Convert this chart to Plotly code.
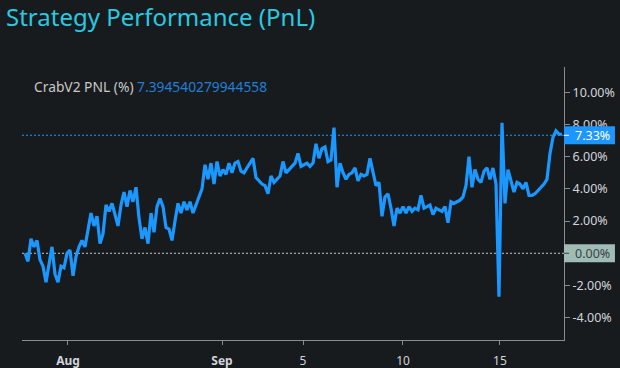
import plotly.graph_objects as go

# ---- data (bar index based, as in the TradingView-style chart) ----
pnl_values = [
    0.0, -0.5, 0.9, 0.4, 0.8, -0.4, -0.8, -1.8, -0.7, 0.4,
    -1.3, -1.8, -0.8, -0.9, 0.0, 0.2, -1.4, -0.2, 0.4, 0.8,
    0.4, 1.5, 2.5, 1.7, 2.3, 0.6, 1.2, 3.0, 2.6, 3.1,
    2.4, 1.7, 3.0, 3.8, 2.9, 3.9, 3.2, 4.1, 2.2, 0.9,
    1.6, 0.6, 2.5, 1.3, 2.9, 3.4, 2.9, 1.6, 1.5, 0.8,
    2.0, 3.1, 2.5, 3.2, 2.7, 3.2, 2.5, 3.0, 3.6, 4.0,
    5.5, 4.6, 5.6, 4.3, 5.7, 4.8, 5.2, 4.9, 5.6, 5.0,
    5.6, 5.7, 5.1, 5.0, 5.3, 5.6, 5.9, 4.7, 4.5, 4.3,
    4.2, 3.7, 4.8, 4.4, 4.6, 4.8, 5.7, 5.0, 5.2, 5.4,
    5.6, 6.2, 5.4, 5.5, 5.6, 5.4, 5.6, 6.8, 5.9, 6.5,
    6.6, 5.7, 5.8, 7.8, 4.1, 5.6, 5.0, 4.6, 4.9, 5.0,
    5.3, 4.5, 4.9, 4.8, 4.9, 5.9, 5.0, 4.2, 4.4, 2.3,
    3.5, 3.7, 2.8, 1.7, 2.8, 2.5, 2.9, 2.5, 2.9, 2.6,
    2.8, 2.7, 3.6, 2.8, 2.9, 3.0, 2.4, 2.8, 2.7, 2.6,
    2.9, 1.9, 3.2, 3.1, 3.2, 3.3, 3.5, 4.2, 6.0, 4.1,
    5.2, 4.6, 4.4, 5.1, 5.3, 4.6, 5.3, 4.3, -2.7, 8.1,
    3.1, 5.2, 4.5, 3.8, 4.4, 4.3, 4.0, 4.4, 3.6, 3.6,
    3.7, 3.9, 4.1, 4.3, 4.6, 6.2, 7.2, 7.6, 7.4, 7.394540279944558,
]
bar_index = list(range(len(pnl_values)))

date_tick_index = [14.33, 65.67, 92.67, 126.0, 158.33]
date_tick_labels = ["<b>Aug</b>", "<b>Sep</b>", "5", "10", "15"]

pnl_ticks = [-4, -2, 0, 2, 4, 6, 8, 10]
pnl_tick_labels = ["" if v == 0 else f"{v:.2f}%" for v in pnl_ticks]

series_name = "CrabV2 PNL (%)"
last_value = pnl_values[-1]
last_label = "7.33%"
last_line_value = 7.33
zero_label = "0.00%"

BG = "#181b1e"
LINE = "#1a98ff"
AXIS = "#8a8d90"
TXT = "#d1d4dc"
FONT = "Noto Sans"

fig = go.Figure()
fig.add_trace(go.Scatter(
    x=bar_index, y=pnl_values, mode="lines",
    line=dict(color=LINE, width=3.2), hoverinfo="skip", showlegend=False,
))

# reference lines
fig.add_shape(type="line", xref="paper", x0=0, x1=1, yref="y", y0=0, y1=0,
              line=dict(color="#c8c8c8", width=1, dash="2px,2px"), layer="below")
fig.add_shape(type="line", xref="paper", x0=0, x1=1, yref="y", y0=last_line_value, y1=last_line_value,
              line=dict(color="#2196f3", width=1, dash="2px,2px"), layer="below")

# price-scale label boxes
fig.add_shape(type="rect", xref="paper", x0=1.0, x1=1.094, yref="y",
              y0=last_line_value - 0.56, y1=last_line_value + 0.56,
              fillcolor="#1e96ff", line=dict(width=0), layer="above")
fig.add_shape(type="rect", xref="paper", x0=1.0, x1=1.094, yref="y",
              y0=-0.56, y1=0.56, fillcolor="#9fbdb6", line=dict(width=0), layer="above")
fig.add_shape(type="line", xref="paper", x0=1.0, x1=1.0092, yref="y",
              y0=last_line_value, y1=last_line_value,
              line=dict(color="#ffffff", width=1), layer="above")
fig.add_shape(type="line", xref="paper", x0=1.0, x1=1.0092, yref="y",
              y0=0, y1=0, line=dict(color="#3c4144", width=1), layer="above")
fig.add_annotation(xref="paper", x=1.0165, yref="y", y=last_line_value, xanchor="left",
                   yanchor="middle", text=last_label, showarrow=False,
                   font=dict(family=FONT, size=12.5, color="#ffffff"))
fig.add_annotation(xref="paper", x=1.0165, yref="y", y=0, xanchor="left",
                   yanchor="middle", text=zero_label, showarrow=False,
                   font=dict(family=FONT, size=12.5, color="#3c4144"))

# legend text
fig.add_annotation(xref="paper", x=0.0185, yref="paper", y=0.930, xanchor="left",
                   yanchor="middle", showarrow=False,
                   text=f"{series_name} <span style='color:#1f80d8'>{last_value}</span>",
                   font=dict(family=FONT, size=13.8, color="#c8c8c8"))

fig.update_layout(
    width=620, height=368,
    paper_bgcolor=BG, plot_bgcolor=BG,
    margin=dict(l=22, r=56, t=67, b=28, autoexpand=False),
    title=dict(text="Strategy Performance (PnL)", x=6 / 620, xanchor="left",
               y=1 - 18 / 368, yanchor="middle",
               font=dict(family=FONT, size=24, color="#29c9e0")),
    xaxis=dict(range=[-1, 179.67], tickmode="array", tickvals=date_tick_index,
               ticktext=date_tick_labels, showgrid=False, zeroline=False,
               showline=True, linecolor=AXIS, linewidth=1, automargin=False,
               ticks="outside", ticklen=4, tickcolor=AXIS, ticklabelstandoff=6,
               tickfont=dict(family=FONT, size=12, color=TXT)),
    yaxis=dict(side="right", range=[-5.385, 11.57], tickmode="array",
               tickvals=pnl_ticks, ticktext=pnl_tick_labels, showgrid=False,
               zeroline=False, showline=True, linecolor=AXIS, linewidth=1,
               automargin=False, ticks="outside", ticklen=5, tickcolor=AXIS,
               tickfont=dict(family=FONT, size=12.5, color=TXT)),
)

fig.write_html("out.html", config={"displayModeBar": False},
               post_script="document.body.style.margin='0';document.body.style.background='#181b1e';")
